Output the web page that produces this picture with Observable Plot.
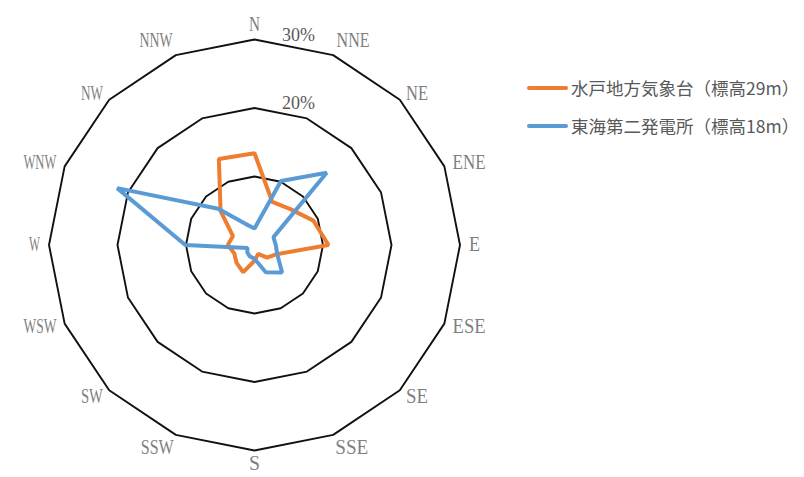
<!DOCTYPE html>
<html>
<head>
<meta charset="utf-8">
<script src="https://cdn.jsdelivr.net/npm/d3@7"></script>
<script src="https://cdn.jsdelivr.net/npm/@observablehq/plot@0.6"></script>
<style>
  html, body { margin: 0; padding: 0; background: #fff; }
  #wrap { position: relative; width: 804px; height: 477px; }
  .legend { position: absolute; left: 527px; font-family: "Noto Sans CJK JP", sans-serif; font-size: 17.5px; color: #595959; display: flex; align-items: center; white-space: nowrap; }
  .legend .sw { width: 41px; height: 4px; border-radius: 2px; margin-right: 3px; }
</style>
</head>
<body>
<div id="wrap"></div>
<script>
// ---- data ----
const directions = ["N","NNE","NE","ENE","E","ESE","SE","SSE","S","SSW","SW","WSW","W","WNW","NW","NNW"];
const seriesNames = ["水戸地方気象台（標高29m）", "東海第二発電所（標高18m）"];
const mito  = [13.4, 6.8, 7.4, 9.3, 10.8, 3.5, 2.6, 1.4, 2.3, 4.3, 3.7, 3.2, 3.9, 3.4, 7.0, 13.6];
const tokai = [2.4, 10.1, 14.9, 3.0, 3.1, 3.6, 5.7, 4.3, 2.0, 1.8, 1.5, 1.1, 10.1, 21.7, 7.5, 3.3];
const rings = [10, 20, 30];
const ringLabels = ["20%", "30%"];
const ringLabelValues = [20, 30];
const colors = ["#ED7D31", "#5B9BD5"];

// ---- helpers ----
const ang = i => i * 2 * Math.PI / directions.length;
const toXY = (v, i) => ({x: v * Math.sin(ang(i)), y: v * Math.cos(ang(i))});

const gridData = rings.flatMap(r => directions.map((d, i) => ({r, ...toXY(r, i)})));
const seriesData = [mito, tokai].flatMap((vals, s) =>
  vals.map((v, i) => ({series: seriesNames[s], dir: directions[i], ...toXY(v, i)})));
const labelData = directions.map((d, i) => {
  const s = Math.sin(ang(i)), c = Math.cos(ang(i));
  const line = c > 0.9 ? "bottom" : c < -0.9 ? "top" : "middle";
  const p = toXY(line === "top" ? 30.8 : 31.3, i);
  return {d, ...p,
    anchor: s > 0.1 ? "start" : s < -0.1 ? "end" : "middle",
    line};
});

const px = 6.85; // pixels per percent
const cx = 254, cy = 244.5, W = 804, H = 477;

const anchors = ["start", "middle", "end"];
const lines = ["top", "middle", "bottom"];
const labelMarks = [];
for (const a of anchors) for (const l of lines) {
  const sub = labelData.filter(e => e.anchor === a && e.line === l);
  if (sub.length) labelMarks.push(Plot.text(sub, {x: "x", y: "y", text: "d", textAnchor: a, lineAnchor: l,
    fill: "#7f7f7f", fontSize: 20, fontFamily: "Liberation Serif, serif", className: "dirlab"}));
}

const chart = Plot.plot({
  width: W, height: H, margin: 0,
  x: {domain: [-cx / px, (W - cx) / px], range: [0, W], axis: null},
  y: {domain: [-(H - cy) / px, cy / px], range: [H, 0], axis: null},
  color: {domain: seriesNames, range: colors},
  style: {background: "white"},
  marks: [
    Plot.line(gridData, {x: "x", y: "y", z: "r", curve: "linear-closed", stroke: "#111", strokeWidth: 1.9}),
    Plot.text(ringLabelValues.map((v, i) => ({v, t: ringLabels[i]})), {x: () => 4.0, y: d => d.v + 0.7, text: "t",
      textAnchor: "start", fill: "#595959", fontSize: 19, fontFamily: "Liberation Serif, serif", className: "pctlab"}),
    ...labelMarks,
    Plot.line(seriesData, {x: "x", y: "y", z: "series", stroke: "series", curve: "linear-closed", strokeWidth: 4, strokeLinejoin: "miter"})
  ]
});

document.getElementById("wrap").appendChild(chart);
d3.select(chart).selectAll(".dirlab text, .pctlab text").each(function() {
  const n = this.textContent.length;
  this.setAttribute("textLength", n * 11);
  this.setAttribute("lengthAdjust", "spacingAndGlyphs");
});

// legend
const wrap = document.getElementById("wrap");
seriesNames.forEach((name, i) => {
  const div = document.createElement("div");
  div.className = "legend";
  div.style.top = (i === 0 ? 75 : 113) + "px";
  div.innerHTML = `<span class="sw" style="background:${colors[i]}"></span><span>${name}</span>`;
  wrap.appendChild(div);
});
</script>
</body>
</html>
